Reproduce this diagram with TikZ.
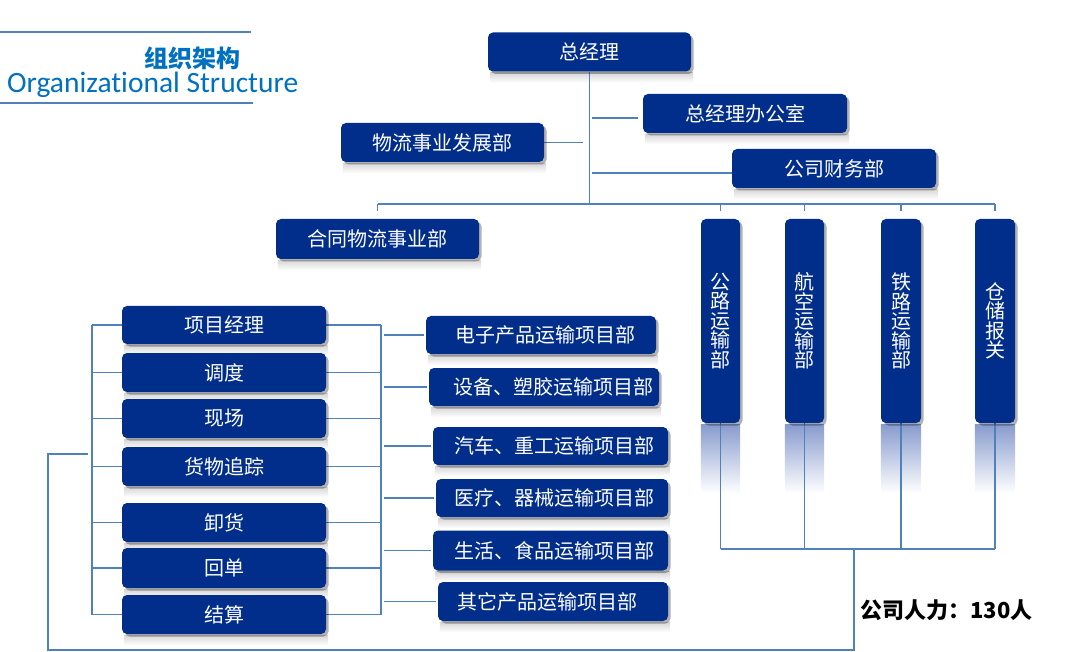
\documentclass[tikz,border=0pt]{standalone}
\usepackage{fontspec}
\setmainfont{Noto Sans CJK SC}
\newfontfamily\latinfont[Ligatures=NoCommon]{Carlito}
\usetikzlibrary{shadows,calc,backgrounds}
\definecolor{boxblue}{RGB}{0,46,138}
\definecolor{linkblue}{RGB}{79,129,189}
\definecolor{titleblue}{RGB}{0,112,192}
\definecolor{reflblue}{RGB}{135,155,205}
\tikzset{
  box/.style={fill=boxblue, rounded corners=5pt, text=white, inner sep=0pt,
    font=\fontsize{20}{22}\selectfont,
    drop shadow={shadow xshift=2.5pt, shadow yshift=-2.5pt, opacity=0.3, fill=black}},
  hbox/.style={box, minimum height=39pt},
  vbox/.style={box, minimum width=39pt, minimum height=204pt, align=center,
    font=\fontsize{20}{19.5}\selectfont},
  trunk/.style={draw=linkblue, line width=1.8pt},
  link/.style={draw=linkblue, line width=1.1pt},
  titleline/.style={draw=linkblue, line width=2.6pt},
}
\newcommand\hrefl[1]{\shade[top color=black!16, bottom color=white]
  ([xshift=2pt,yshift=-1pt]#1.south west) rectangle ([xshift=2pt,yshift=-11pt]#1.south east);}
\newcommand\vrefl[1]{\shade[top color=reflblue, bottom color=white]
  ([yshift=-1pt]#1.south west) rectangle ([yshift=-70pt]#1.south east);}
\begin{document}
\begin{tikzpicture}[x=1pt,y=-1pt]
\useasboundingbox (0,0) rectangle (1071,652);

% title
\draw[titleline] (0,32) -- (251,32);
\draw[titleline] (0,103) -- (253,103);
\node[text=titleblue, font=\fontsize{24}{26}\selectfont\bfseries] (tzh) at (192.5,58) {组织架构};
\node[text=titleblue, font=\latinfont\fontsize{29.5}{31}\selectfont, anchor=west, inner sep=0pt] (ten) at (7,85) {Organizational Structure};

% top level
\node[hbox, minimum width=203pt] (gm) at (589.5,52) {总经理};
\node[hbox, minimum width=204pt] (office) at (745,113.5) {总经理办公室};
\node[hbox, minimum width=203pt] (dev) at (442.5,142.5) {物流事业发展部};
\node[hbox, minimum width=204pt] (fin) at (834,168.5) {公司财务部};
\node[hbox, minimum width=203pt, minimum height=40pt] (ht) at (377.5,239) {合同物流事业部};

% vertical departments
\node[vbox] (v1) at (720.5,321) {公\\路\\运\\输\\部};
\node[vbox] (v2) at (804.5,321) {航\\空\\运\\输\\部};
\node[vbox, minimum width=40pt] (v3) at (901,321) {铁\\路\\运\\输\\部};
\node[vbox, minimum width=40pt] (v4) at (995,321) {仓\\储\\报\\关};

% left column
\node[hbox, minimum width=204pt, minimum height=38pt] (L1) at (224,325) {项目经理};
\node[hbox, minimum width=204pt] (L2) at (224,372.5) {调度};
\node[hbox, minimum width=204pt] (L3) at (224,418.5) {现场};
\node[hbox, minimum width=204pt] (L4) at (224,466.5) {货物追踪};
\node[hbox, minimum width=204pt] (L5) at (224,522.5) {卸货};
\node[hbox, minimum width=204pt, minimum height=40pt] (L6) at (224,568) {回单};
\node[hbox, minimum width=204pt] (L7) at (224,614.5) {结算};

% right column
\node[hbox, minimum width=230pt, minimum height=38pt] (R1) at (541,335) {\hspace*{8pt}电子产品运输项目部};
\node[hbox, minimum width=230pt, minimum height=38pt] (R2) at (544,387) {\hspace*{18pt}设备、塑胶运输项目部};
\node[hbox, minimum width=235pt, minimum height=38pt] (R3) at (550.5,446) {\hspace*{8pt}汽车、重工运输项目部};
\node[hbox, minimum width=232pt, minimum height=38pt] (R4) at (552,498) {\hspace*{4pt}医疗、器械运输项目部};
\node[hbox, minimum width=235pt, minimum height=40pt] (R5) at (550.5,550.5) {\hspace*{8pt}生活、食品运输项目部};
\node[hbox, minimum width=230pt] (R6) at (553,601.5) {其它产品运输项目部\hspace*{12pt}};

% staff note
\node[anchor=west, inner sep=0pt, font=\fontsize{22}{24}\selectfont\bfseries] (staff) at (860,610) {公司人力：130人};

\begin{scope}[on background layer]
  % reflections
  \foreach \n in {gm,office,dev,fin,ht,L1,L2,L3,L4,L5,L6,L7,R1,R2,R3,R4,R5,R6} {\hrefl{\n}}
  \foreach \n in {v1,v2,v3,v4} {\vrefl{\n}}

  % trunk and top links
  \coordinate (bary) at (0,204);
  \draw[trunk] (gm.south) -- (gm.south |- bary);
  \coordinate (ko) at (592,118);
  \draw[link, shorten >=5pt] (ko) -- (ko -| office.west);
  \draw[link] (dev.east) -- ++(39,0);
  \coordinate (kf) at (592,173);
  \draw[link] (kf) -- (kf -| fin.west);

  % distribution bar
  \draw[link] (ht.north |- bary) -- (v4.north |- bary);
  \foreach \n in {ht,v1,v2,v3,v4} {\draw[link, shorten >=8pt] (\n.north |- bary) -- (\n.north);}

  % bottom collection
  \coordinate (boty) at (0,549);
  \foreach \n in {v1,v2,v3,v4} {\draw[link] (\n.south) -- (\n.south |- boty);}
  \draw[link] (v1.south |- boty) -- (v4.south |- boty);
  \coordinate (kb) at (854,549);
  \coordinate (kc) at (854,650);
  \coordinate (kd) at (48,650);
  \coordinate (ke) at (48,454);
  \coordinate (kg) at (88,454);
  \draw[link] (kb) -- (kc) -- (kd) -- (ke) -- (kg);

  % left bracket
  \coordinate (lb) at (92,0);
  \draw[link] (lb |- L1.west) -- (lb |- L7.west);
  \foreach \n in {L1,L2,L3,L4,L5,L6,L7} {\draw[link] (lb |- \n.west) -- (\n.west);}

  % right bracket
  \coordinate (rb) at (381,0);
  \draw[link] (rb |- L1.east) -- (rb |- L7.east);
  \foreach \n in {L1,L2,L3,L4,L5,L6,L7} {\draw[link] (\n.east) -- (\n.east -| rb);}
  \foreach \n in {R1,R2,R3,R4,R5,R6} {\draw[link, shorten <=3pt, shorten >=2pt] (\n.west -| rb) -- (\n.west);}
\end{scope}
\end{tikzpicture}
\end{document}
